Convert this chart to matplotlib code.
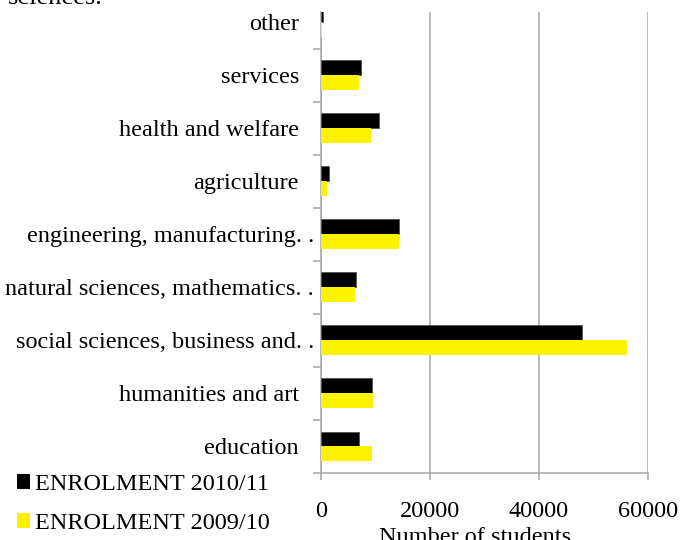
import matplotlib
matplotlib.use('Agg')
import matplotlib.pyplot as plt
import matplotlib.transforms as mtransforms
from matplotlib.patches import Patch
import numpy as np

# enrolment by field of study, bottom to top
fields = ['education', 'humanities and art', 'social sciences, business and. .',
          'natural sciences, mathematics. .', 'engineering, manufacturing. .',
          'agriculture', 'health and welfare', 'services', 'other']
enrol_2010 = [7030, 9360, 47830, 6360, 14300, 1410, 10640, 7400, 300]
enrol_2009 = [9300, 9540, 56150, 6240, 14350, 1160, 9180, 6970, 250]
x_ticks = [0, 20000, 40000, 60000]

plt.rcParams['font.family'] = ['Liberation Serif', 'DejaVu Serif']
plt.rcParams['font.size'] = 17.5

grey = '#a6a6a6'
fig = plt.figure(figsize=(6.81, 5.4), dpi=100)
ax = fig.add_axes([321 / 681, 67 / 540, 327 / 681, 461 / 540])

y = np.arange(len(fields))
h = 0.283
ax.barh(y + h / 2, enrol_2010, height=h, color='black', edgecolor='#555555',
        linewidth=0.6, zorder=3)
ax.barh(y - h / 2, enrol_2009, height=h, color='#fff200', zorder=3)

ax.set_xlim(0, 60000)
ax.set_ylim(-0.5, 8.198)
ax.set_xticks(x_ticks)
ax.set_xticklabels([str(v) for v in x_ticks])
ax.set_yticks(y)
ax.set_yticklabels([])
ax.set_yticks(np.arange(-0.5, 8, 1), minor=True)

# category names drawn by hand: truncated ones let their dots hang past the rest
for yi, name in zip(y, fields):
    dx = -7 if name.endswith('. .') else -22
    off = mtransforms.ScaledTranslation(dx / 100, 0, fig.dpi_scale_trans)
    ax.text(0, yi, name, transform=ax.get_yaxis_transform() + off,
            ha='right', va='center_baseline')

ax.grid(axis='x', color=grey, linewidth=1.1, zorder=0)
for side in ['top', 'right']:
    ax.spines[side].set_visible(False)
for side in ['left', 'bottom']:
    ax.spines[side].set_color(grey)
    ax.spines[side].set_linewidth(1.1)

ax.tick_params(axis='y', which='major', length=0)
ax.tick_params(axis='y', which='minor', length=6, width=1.1, color=grey)
ax.tick_params(axis='x', length=5, width=1.1, color=grey, pad=15)

fig.text(475 / 681, 1 - 527 / 540, 'Number of students', ha='center', va='top')
fig.text(8 / 681, 1 - 4 / 540, 'sciences.', ha='left', va='baseline', fontsize=19)

handles = [Patch(facecolor='black', label='ENROLMENT 2010/11'),
           Patch(facecolor='#fff200', label='ENROLMENT 2009/10')]
fig.legend(handles=handles, loc='lower left', bbox_to_anchor=(0.0, -0.021),
           frameon=False, handlelength=0.55, handleheight=0.55,
           handletextpad=0.2, labelspacing=0.75, borderpad=0.2)

fig.savefig('out.png', dpi=100)
